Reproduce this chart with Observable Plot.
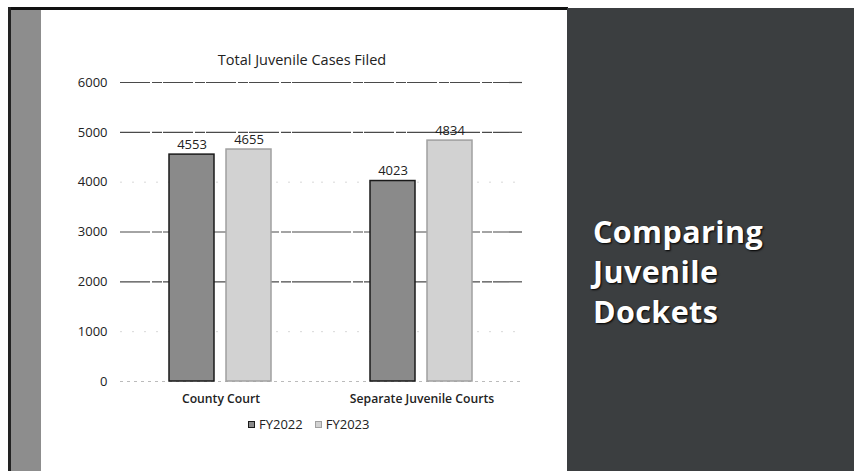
<!DOCTYPE html>
<html>
<head>
<meta charset="utf-8">
<script src="https://cdn.jsdelivr.net/npm/d3@7"></script>
<script src="https://cdn.jsdelivr.net/npm/@observablehq/plot@0.6"></script>
<style>
  html, body { margin: 0; padding: 0; background: #fff; }
  #slide { position: relative; width: 854px; height: 471px; overflow: hidden; background: #fff; font-family: "Open Sans", "Noto Sans", sans-serif; }
  #topline { position: absolute; left: 8px; top: 7px; width: 560px; height: 3px; background: #111; }
  #leftline { position: absolute; left: 8px; top: 7px; width: 3px; height: 464px; background: #222; }
  #stripe { position: absolute; left: 11px; top: 10px; width: 30px; height: 461px; background: #8d8d8d; }
  #panel { position: absolute; left: 567px; top: 8px; width: 287px; height: 463px; background: #3b3e40; }
  #panel .t { position: absolute; left: 26px; top: 203px; color: #fff; font-family: "Open Sans", sans-serif; font-weight: 700; font-size: 30.5px; line-height: 40px; letter-spacing: 0.4px; text-shadow: 1px 1px 2px #000; }
  #title { position: absolute; left: 132px; width: 340px; top: 50px; text-align: center; font-size: 14.5px; color: #222; }
  #chart { position: absolute; left: 0; top: 0; }
  #legend { position: absolute; top: 415px; left: 248px; font-size: 13px; color: #222; display: flex; gap: 12px; }
  #legend span.sw { display: inline-block; width: 7px; height: 7px; margin-right: 4px; vertical-align: 1px; box-sizing: border-box; }
</style>
</head>
<body>
<div id="slide">
  <div id="stripe"></div>
  <div id="topline"></div>
  <div id="leftline"></div>
  <div id="chart"></div>
  <div id="title">Total Juvenile Cases Filed</div>
  <div id="legend"></div>
  <div id="panel"><div class="t">Comparing<br>Juvenile<br>Dockets</div></div>
</div>
<script>
const categories = ["County Court", "Separate Juvenile Courts"];
const seriesNames = ["FY2022", "FY2023"];
const fy2022 = [4553, 4023];
const fy2023 = [4655, 4834];
const yTicks = [0, 1000, 2000, 3000, 4000, 5000, 6000];
const strongGrid = [2000, 3000, 5000, 6000];
const faintGrid = [1000, 4000];

const colors = {FY2022: "#8a8a8a", FY2023: "#d2d2d2"};
const strokes = {FY2022: "#1a1a1a", FY2023: "#a0a0a0"};

const rows = [];
categories.forEach((c, i) => {
  rows.push({category: c, series: "FY2022", value: fy2022[i]});
  rows.push({category: c, series: "FY2023", value: fy2023[i]});
});

const plot = Plot.plot({
  width: 560,
  height: 471,
  marginLeft: 120,
  marginRight: 38,
  marginTop: 82,
  marginBottom: 90,
  style: {background: "transparent", fontFamily: "Open Sans, Noto Sans, sans-serif", color: "#222", fontSize: "13px"},
  fx: {domain: categories, padding: 0, label: null, axis: "bottom", tickSize: 0, tickPadding: 13},
  x: {domain: seriesNames, paddingInner: 0.21, paddingOuter: 0.868, axis: null},
  y: {domain: [0, 6000], ticks: yTicks, tickFormat: "d", label: null, tickSize: 0, tickPadding: 13},
  marks: [
    Plot.ruleY(strongGrid, {stroke: "#4a4a4a", strokeWidth: 1.2, strokeDasharray: "30,2,10,1"}),
    Plot.ruleY(faintGrid, {stroke: "#d8d8d8", strokeWidth: 1, strokeDasharray: "2,10"}),
    Plot.ruleY([0], {stroke: "#bbb", strokeWidth: 1, strokeDasharray: "3,4"}),
    Plot.barY(rows, {fx: "category", x: "series", y: "value",
      fill: d => colors[d.series], stroke: d => strokes[d.series], strokeWidth: 1.5}),
    Plot.text(rows, {fx: "category", x: "series", y: "value", text: d => String(d.value),
      dy: -10, fontSize: 13, fill: "#222"})
  ]
});
document.getElementById("chart").appendChild(plot);
plot.querySelectorAll("g[aria-label='fx-axis tick label'] text").forEach(t => {
  t.setAttribute("font-weight", "600");
  t.setAttribute("font-size", "12.2");
});

const legend = document.getElementById("legend");
seriesNames.forEach(s => {
  const item = document.createElement("div");
  const sw = document.createElement("span");
  sw.className = "sw";
  sw.style.background = colors[s];
  sw.style.border = "1.5px solid " + strokes[s];
  item.appendChild(sw);
  item.appendChild(document.createTextNode(s));
  legend.appendChild(item);
});
</script>
</body>
</html>
